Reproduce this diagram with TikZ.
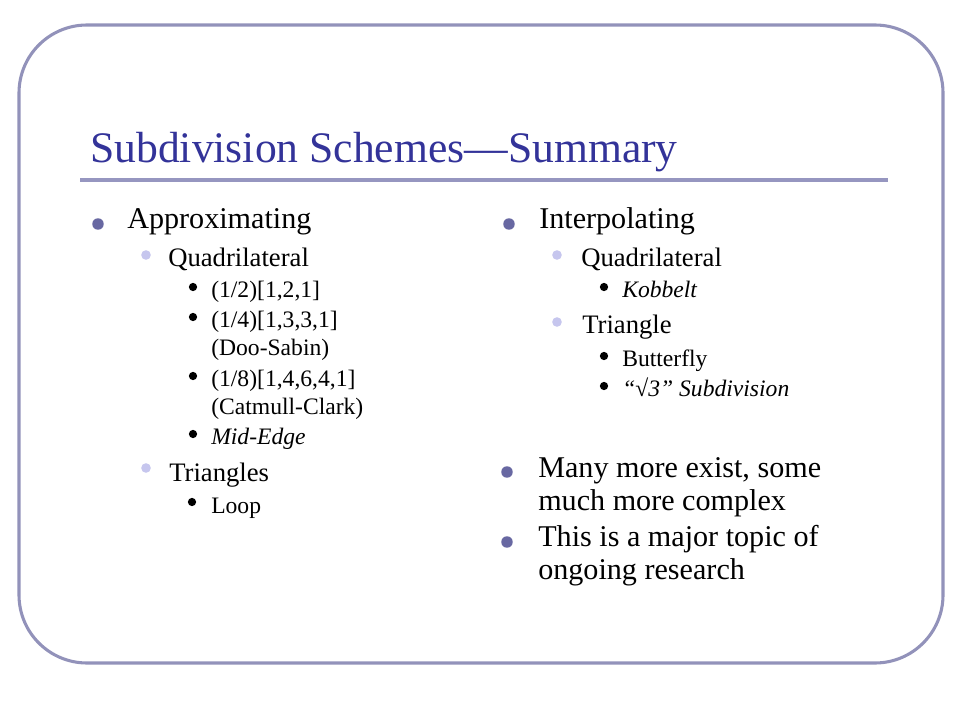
\documentclass[tikz,border=0pt]{standalone}
\usepackage{fontspec}
\setmainfont{Liberation Serif}
\definecolor{framec}{RGB}{146,146,186}
\definecolor{rulec}{RGB}{150,150,192}
\definecolor{titlec}{RGB}{51,51,153}
\definecolor{bulA}{RGB}{104,104,162}
\definecolor{bulB}{RGB}{198,198,238}
\tikzset{
  ttl/.style={anchor=base west, inner sep=0pt, text=titlec, font=\fontsize{32.7}{38}\selectfont},
  lone/.style={anchor=base west, inner sep=0pt, font=\fontsize{22.6}{27}\selectfont},
  ltwo/.style={anchor=base west, inner sep=0pt, font=\fontsize{20}{24}\selectfont},
  lthree/.style={anchor=base west, inner sep=0pt, font=\fontsize{17.7}{21}\selectfont},
  bone/.style={circle, fill=bulA, inner sep=0pt, minimum size=8.6pt},
  btwo/.style={circle, fill=bulB, inner sep=0pt, minimum size=7.2pt},
  bthree/.style={circle, fill=black, inner sep=0pt, minimum size=6.2pt},
}
\begin{document}
\begin{tikzpicture}[x=0.75pt,y=-0.75pt]
\useasboundingbox (0,0) rectangle (960,720);
\fill[white] (0,0) rectangle (960,720);
\draw[framec, line width=2.3pt, rounded corners=51pt] (19,25) rectangle (943,663);
% title
\node[ttl] (title) at (90,163) {Subdivision Schemes—Summary};
\fill[rulec] (80,178) rectangle (888,182);
% left column
\node[bone] (lb1) at (98,224) {};
\node[lone] (approx) at (127,229) {Approximating};
\node[btwo] (lb2) at (146,255) {};
\node[ltwo] (quadA) at (168,267) {Quadrilateral};
\node[bthree] (lb3) at (193,287) {};
\node[lthree] (half) at (211,297) {(1/2)[1,2,1]};
\node[bthree] (lb4) at (193,317) {};
\node[lthree] (quarter) at (211,327) {(1/4)[1,3,3,1]};
\node[lthree] (doo) at (211,355) {(Doo-Sabin)};
\node[bthree] (lb5) at (193,376) {};
\node[lthree] (eighth) at (211,386) {(1/8)[1,4,6,4,1]};
\node[lthree] (cat) at (211,414) {(Catmull-Clark)};
\node[bthree] (lb6) at (193,434) {};
\node[lthree] (mid) at (211,444) {\itshape Mid-Edge};
\node[btwo] (lb7) at (146,468) {};
\node[ltwo] (triA) at (169,481) {Triangles};
\node[bthree] (lb8) at (192,502) {};
\node[lthree] (loop) at (211,513) {Loop};
% right column
\node[bone] (rb1) at (509,224) {};
\node[lone] (interp) at (539,229) {Interpolating};
\node[btwo] (rb2) at (557,255) {};
\node[ltwo] (quadB) at (581,267) {Quadrilateral};
\node[bthree] (rb3) at (604,287) {};
\node[lthree] (kob) at (622,297) {\itshape Kobbelt};
\node[btwo] (rb4) at (557,322) {};
\node[ltwo] (triB) at (582,334) {Triangle};
\node[bthree] (rb5) at (604,356) {};
\node[lthree] (butter) at (622,366) {Butterfly};
\node[bthree] (rb6) at (604,386) {};
\node[lthree] (sqrt) at (622,396) {\itshape “√3” Subdivision};
\node[bone] (rb7) at (507,472) {};
\node[lone] (many) at (538,477) {Many more exist, some};
\node[lone] (much) at (538,510) {much more complex};
\node[bone] (rb8) at (507,542) {};
\node[lone] (this) at (538,546) {This is a major topic of};
\node[lone] (ongoing) at (538,579) {ongoing research};
\end{tikzpicture}
\end{document}
